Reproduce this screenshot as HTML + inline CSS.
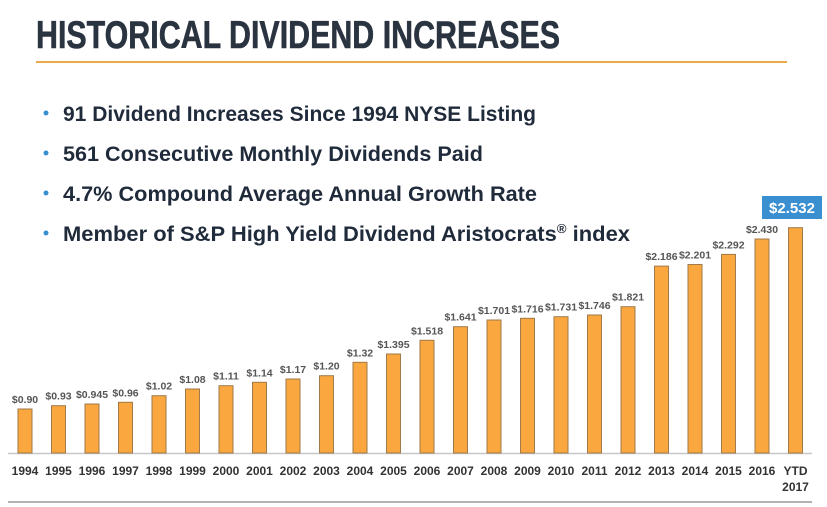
<!DOCTYPE html>
<html><head><meta charset="utf-8"><style>
html,body{margin:0;padding:0;background:#fff;width:827px;height:507px;overflow:hidden}
svg{display:block;font-family:"Liberation Sans",sans-serif}
.v{font-size:10.5px;font-weight:bold;fill:#555;text-anchor:middle}
.y{font-size:12px;font-weight:bold;fill:#333;text-anchor:middle}
.b{font-size:21.5px;font-weight:bold;fill:#1f2a3a}
rect.bar{fill:#f9a73e;stroke:#a07a4a;stroke-width:1}
</style></head><body>
<svg width="827" height="507" viewBox="0 0 827 507">
<text x="36" y="48" font-size="39" font-weight="bold" fill="#2a3340" stroke="#2a3340" stroke-width="0.6" textLength="524" lengthAdjust="spacingAndGlyphs">HISTORICAL DIVIDEND INCREASES</text>
<rect x="36" y="61" width="751" height="2" fill="#e8ab4a"/>
<g fill="#3a8fd0"><circle cx="46" cy="113" r="2.5"/><circle cx="46" cy="153" r="2.5"/><circle cx="46" cy="193" r="2.5"/><circle cx="46" cy="233" r="2.5"/></g>
<text class="b" x="63" y="121" textLength="473" lengthAdjust="spacingAndGlyphs">91 Dividend Increases Since 1994 NYSE Listing</text>
<text class="b" x="63" y="161" textLength="420" lengthAdjust="spacingAndGlyphs">561 Consecutive Monthly Dividends Paid</text>
<text class="b" x="63" y="201" textLength="474" lengthAdjust="spacingAndGlyphs">4.7% Compound Average Annual Growth Rate</text>
<text class="b" x="63" y="241" textLength="567" lengthAdjust="spacingAndGlyphs">Member of S&amp;P High Yield Dividend Aristocrats<tspan font-size="13" dy="-8">®</tspan><tspan dy="8"> index</tspan></text>
<rect x="762" y="196" width="60" height="23" fill="#3a8fd0"/>
<text x="792" y="213" font-size="15" font-weight="bold" fill="#fff" text-anchor="middle">$2.532</text>
<line x1="8" y1="453.5" x2="812" y2="453.5" stroke="#c8c8c8" stroke-width="1.5"/>
<line x1="8" y1="502" x2="812" y2="502" stroke="#999" stroke-width="1.5"/>
<g>
<rect class="bar" x="18" y="409" width="14" height="44"/>
<rect class="bar" x="51.5" y="405.7" width="14" height="47.3"/>
<rect class="bar" x="85" y="404" width="14" height="49"/>
<rect class="bar" x="118.5" y="402.3" width="14" height="50.7"/>
<rect class="bar" x="152" y="395.7" width="14" height="57.3"/>
<rect class="bar" x="185.5" y="389" width="14" height="64"/>
<rect class="bar" x="219" y="385.7" width="14" height="67.3"/>
<rect class="bar" x="252.5" y="382.3" width="14" height="70.7"/>
<rect class="bar" x="286" y="379" width="14" height="74"/>
<rect class="bar" x="319.5" y="375.7" width="14" height="77.3"/>
<rect class="bar" x="353" y="362.3" width="14" height="90.7"/>
<rect class="bar" x="386.5" y="354" width="14" height="99"/>
<rect class="bar" x="420" y="340.3" width="14" height="112.7"/>
<rect class="bar" x="453.5" y="326.7" width="14" height="126.3"/>
<rect class="bar" x="487" y="320" width="14" height="133"/>
<rect class="bar" x="520.5" y="318.3" width="14" height="134.7"/>
<rect class="bar" x="554" y="316.7" width="14" height="136.3"/>
<rect class="bar" x="587.5" y="315" width="14" height="138"/>
<rect class="bar" x="621" y="306.7" width="14" height="146.3"/>
<rect class="bar" x="654.5" y="266.1" width="14" height="186.9"/>
<rect class="bar" x="688" y="264.5" width="14" height="188.5"/>
<rect class="bar" x="721.5" y="254.4" width="14" height="198.6"/>
<rect class="bar" x="755" y="239" width="14" height="214"/>
<rect class="bar" x="788.5" y="227.7" width="14" height="225.3"/>
</g>
<g>
<text class="v" x="25" y="403">$0.90</text>
<text class="v" x="58.5" y="399.7">$0.93</text>
<text class="v" x="92" y="398">$0.945</text>
<text class="v" x="125.5" y="396.3">$0.96</text>
<text class="v" x="159" y="389.7">$1.02</text>
<text class="v" x="192.5" y="383">$1.08</text>
<text class="v" x="226" y="379.7">$1.11</text>
<text class="v" x="259.5" y="376.3">$1.14</text>
<text class="v" x="293" y="373">$1.17</text>
<text class="v" x="326.5" y="369.7">$1.20</text>
<text class="v" x="360" y="356.3">$1.32</text>
<text class="v" x="393.5" y="348">$1.395</text>
<text class="v" x="427" y="334.3">$1.518</text>
<text class="v" x="460.5" y="320.7">$1.641</text>
<text class="v" x="494" y="314">$1.701</text>
<text class="v" x="527.5" y="312.3">$1.716</text>
<text class="v" x="561" y="310.7">$1.731</text>
<text class="v" x="594.5" y="309">$1.746</text>
<text class="v" x="628" y="300.7">$1.821</text>
<text class="v" x="661.5" y="260.1">$2.186</text>
<text class="v" x="695" y="258.5">$2.201</text>
<text class="v" x="728.5" y="248.4">$2.292</text>
<text class="v" x="762" y="233">$2.430</text>
</g>
<g>
<text class="y" x="25" y="475">1994</text>
<text class="y" x="58.5" y="475">1995</text>
<text class="y" x="92" y="475">1996</text>
<text class="y" x="125.5" y="475">1997</text>
<text class="y" x="159" y="475">1998</text>
<text class="y" x="192.5" y="475">1999</text>
<text class="y" x="226" y="475">2000</text>
<text class="y" x="259.5" y="475">2001</text>
<text class="y" x="293" y="475">2002</text>
<text class="y" x="326.5" y="475">2003</text>
<text class="y" x="360" y="475">2004</text>
<text class="y" x="393.5" y="475">2005</text>
<text class="y" x="427" y="475">2006</text>
<text class="y" x="460.5" y="475">2007</text>
<text class="y" x="494" y="475">2008</text>
<text class="y" x="527.5" y="475">2009</text>
<text class="y" x="561" y="475">2010</text>
<text class="y" x="594.5" y="475">2011</text>
<text class="y" x="628" y="475">2012</text>
<text class="y" x="661.5" y="475">2013</text>
<text class="y" x="695" y="475">2014</text>
<text class="y" x="728.5" y="475">2015</text>
<text class="y" x="762" y="475">2016</text>
<text class="y" x="795.5" y="475">YTD</text>
<text class="y" x="795.5" y="491">2017</text>
</g>
</svg>
</body></html>
